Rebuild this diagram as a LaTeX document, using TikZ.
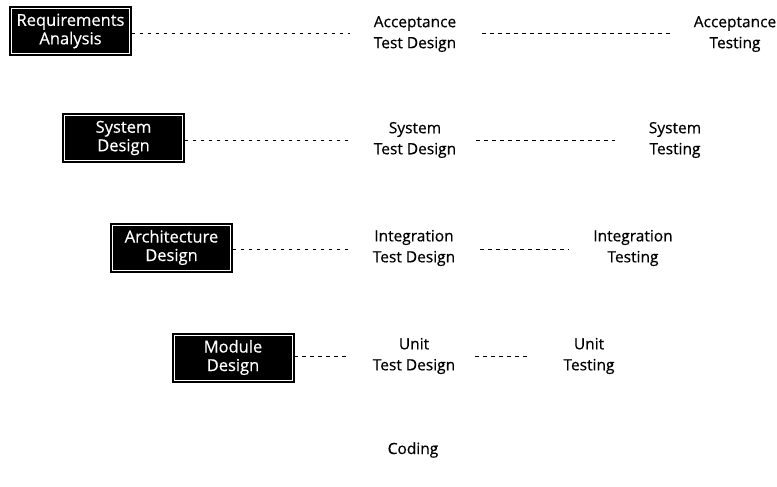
\documentclass[tikz,border=0pt]{standalone}
\usepackage{fontspec}
\setmainfont{Open Sans}
\newfontfamily\lblfont[FakeBold=0.5]{Open Sans}
\begin{document}
\begin{tikzpicture}[x=1pt,y=-1pt,
  phase/.style={draw=black,fill=black,text=white,minimum width=122pt,minimum height=49pt,inner sep=0pt,align=center,font=\lblfont\fontsize{16.5}{18.5}\selectfont,
    path picture={\draw[white,line width=0.6pt] ([shift={(2pt,2pt)}]path picture bounding box.south west) rectangle ([shift={(-2pt,-2pt)}]path picture bounding box.north east);}},
  lbl/.style={align=center,inner sep=0pt,font=\lblfont\fontsize{15.5}{21}\selectfont},
  link/.style={line width=0.9pt,dash pattern=on 3.5pt off 4.5pt}]
\useasboundingbox (0,0) rectangle (777,487);
% design phases
\node[phase] (ra) at (70.5,31) {Requirements\\Analysis};
\node[phase] (sd) at (123.5,138) {System\\Design};
\node[phase] (ad) at (171.5,247.5) {Architecture\\Design};
\node[phase] (md) at (233,357.5) {Module\\Design};
% test design
\node[lbl] (atd) at (415,34) {Acceptance\\Test Design};
\node[lbl] (std) at (415,140) {System\\Test Design};
\node[lbl] (itd) at (414,248) {Integration\\Test Design};
\node[lbl] (utd) at (414,356) {Unit\\Test Design};
% testing
\node[lbl] (at) at (735,34) {Acceptance\\Testing};
\node[lbl] (st) at (675,140) {System\\Testing};
\node[lbl] (it) at (633,248) {Integration\\Testing};
\node[lbl] (ut) at (589,356) {Unit\\Testing};
% coding
\node[lbl] (cod) at (413,450) {Coding};
% connectors
\coordinate (a1) at (350,33);  \coordinate (a2) at (482,33); \coordinate (a3) at (672,33);
\coordinate (s1) at (350,140); \coordinate (s2) at (476,140); \coordinate (s3) at (615,140);
\coordinate (i1) at (349,249); \coordinate (i2) at (480,249); \coordinate (i3) at (569,249);
\coordinate (u1) at (350,356); \coordinate (u2) at (475,356); \coordinate (u3) at (531,356);
\draw[link] (ra.east |- a1) -- (a1);
\draw[link] (a2) -- (a3);
\draw[link] (sd.east |- s1) -- (s1);
\draw[link] (s2) -- (s3);
\draw[link] (ad.east |- i1) -- (i1);
\draw[link] (i2) -- (i3);
\draw[link] (md.east |- u1) -- (u1);
\draw[link] (u2) -- (u3);
\end{tikzpicture}
\end{document}
